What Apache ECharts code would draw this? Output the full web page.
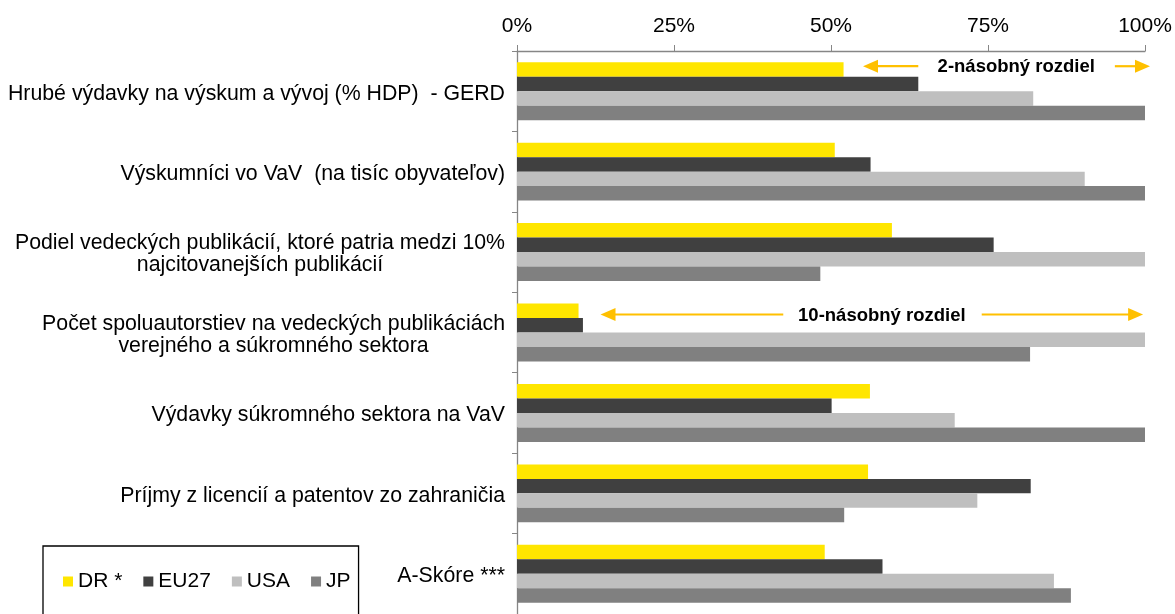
<!DOCTYPE html>
<html lang="sk">
<head>
    <meta charset="UTF-8">
    <title>VaV porovnanie</title>
    <script src="https://cdn.jsdelivr.net/npm/echarts@6/dist/echarts.min.js"></script>
    <style>
        html, body { margin: 0; padding: 0; background: #fff; }
        #main { width: 1175px; height: 614px; }
    </style>
</head>
<body>
<div id="main"></div>
<script>
    // kategorie (zhora nadol)
    var categories = [
        'Hrubé výdavky na výskum a vývoj (% HDP)  - GERD',
        'Výskumníci vo VaV  (na tisíc obyvateľov)',
        'Podiel vedeckých publikácií, ktoré patria medzi 10%\nnajcitovanejších publikácií',
        'Počet spoluautorstiev na vedeckých publikáciách\nverejného a súkromného sektora',
        'Výdavky súkromného sektora na VaV',
        'Príjmy z licencií a patentov zo zahraničia',
        'A-Skóre ***'
    ];
    // hodnoty (podiel z najlepsieho)
    var dr   = [0.52, 0.506, 0.597, 0.098, 0.562, 0.559, 0.490];
    var eu27 = [0.639, 0.563, 0.759, 0.105, 0.501, 0.818, 0.582];
    var usa  = [0.822, 0.904, 1.00, 1.00, 0.697, 0.733, 0.855];
    var jp   = [1.00, 1.00, 0.483, 0.817, 1.00, 0.521, 0.882];
    var xTicks = [0, 0.25, 0.5, 0.75, 1];

    var seriesNames = ['DR *', 'EU27', 'USA', 'JP'];
    var colors = ['#FFE600', '#404040', '#BFBFBF', '#808080'];

    // popisky so sipkami: poloha v hodnotach osi x, dy = posun od stredu kategorie
    var notes = [
        { text: '2-násobný rozdiel', cat: 0, dy: -25, textX: 0.795, left: [0.551, 0.639], right: [0.952, 1.008] },
        { text: '10-násobný rozdiel', cat: 3, dy: -18, textX: 0.581, left: [0.133, 0.424], right: [0.740, 0.997] }
    ];

    var myChart = echarts.init(document.getElementById('main'));

    function makeLabel(value) {
        // viacriadkove popisky - riadky centrovane v bloku
        if (value.indexOf('\n') < 0) return value;
        return value.split('\n').map(function (s) { return '{c|' + s + '}'; }).join('\n');
    }

    var data = [dr, eu27, usa, jp];
    var series = seriesNames.map(function (name, i) {
        return {
            name: name,
            type: 'bar',
            data: data[i],
            barGap: '0%',
            barCategoryGap: '28%',
            itemStyle: { color: colors[i] },
            silent: true
        };
    });

    var option = {
        animation: false,
        textStyle: { fontFamily: 'Liberation Sans, Arial, sans-serif' },
        grid: { left: 517, right: 30, top: 51, height: 571.3, containLabel: false },
        legend: {
            data: seriesNames.map(function (n, i) { return { name: n, icon: 'rect', itemStyle: { color: colors[i] } }; }),
            left: 43,
            top: 546,
            orient: 'horizontal',
            itemWidth: 10,
            itemHeight: 10,
            itemGap: 21,
            padding: [25, 8, 40, 20],
            borderColor: '#000',
            borderWidth: 1.3,
            textStyle: { fontSize: 21, color: '#000', fontFamily: 'Liberation Sans, Arial, sans-serif' },
            selectedMode: false
        },
        xAxis: {
            type: 'value',
            position: 'top',
            min: xTicks[0],
            max: xTicks[xTicks.length - 1],
            interval: 0.25,
            axisLine: { show: true, lineStyle: { color: '#868686', width: 1.3 } },
            axisTick: { show: true, length: 6, lineStyle: { color: '#868686' } },
            splitLine: { show: false },
            axisLabel: {
                fontSize: 21,
                color: '#000',
                margin: 14,
                formatter: function (v) { return Math.round(v * 100) + '%'; }
            }
        },
        yAxis: {
            type: 'category',
            inverse: true,
            data: categories,
            axisLine: { show: true, lineStyle: { color: '#868686', width: 1.3 } },
            axisTick: { show: true, length: 5, lineStyle: { color: '#868686' } },
            axisLabel: {
                fontSize: 21.3,
                color: '#000',
                margin: 12,
                lineHeight: 22,
                padding: [5, 0, 0, 0],
                formatter: makeLabel,
                rich: {
                    c: { fontSize: 21.3, color: '#000', align: 'center', lineHeight: 22 }
                }
            }
        },
        series: series
    };

    myChart.setOption(option);

    // sipky a texty cez graphic, poloha cez os grafu
    function buildNotes() {
        var els = [];
        var orange = '#FFC000';
        notes.forEach(function (n) {
            var c = myChart.convertToPixel({ gridIndex: 0 }, [0, n.cat]);
            var y = c[1] + n.dy;
            function xp(v) { return myChart.convertToPixel({ gridIndex: 0 }, [v, n.cat])[0]; }
            // lava sipka (hrot vlavo)
            var lt = xp(n.left[0]), lb = xp(n.left[1]);
            els.push({ type: 'line', shape: { x1: lt + 12, y1: y, x2: lb, y2: y }, style: { stroke: orange, lineWidth: 2.2 }, silent: true });
            els.push({ type: 'polygon', shape: { points: [[lt, y], [lt + 15, y - 6.5], [lt + 15, y + 6.5]] }, style: { fill: orange }, silent: true });
            // prava sipka (hrot vpravo)
            var rt = xp(n.right[1]), rb = xp(n.right[0]);
            els.push({ type: 'line', shape: { x1: rb, y1: y, x2: rt - 12, y2: y }, style: { stroke: orange, lineWidth: 2.2 }, silent: true });
            els.push({ type: 'polygon', shape: { points: [[rt, y], [rt - 15, y - 6.5], [rt - 15, y + 6.5]] }, style: { fill: orange }, silent: true });
            // text
            els.push({
                type: 'text',
                x: xp(n.textX),
                y: y + 1,
                style: {
                    text: n.text,
                    fill: '#000',
                    font: 'bold 18.5px "Liberation Sans", Arial, sans-serif',
                    align: 'center',
                    verticalAlign: 'middle'
                },
                silent: true
            });
        });
        myChart.setOption({ graphic: els });
    }
    buildNotes();
</script>
</body>
</html>
